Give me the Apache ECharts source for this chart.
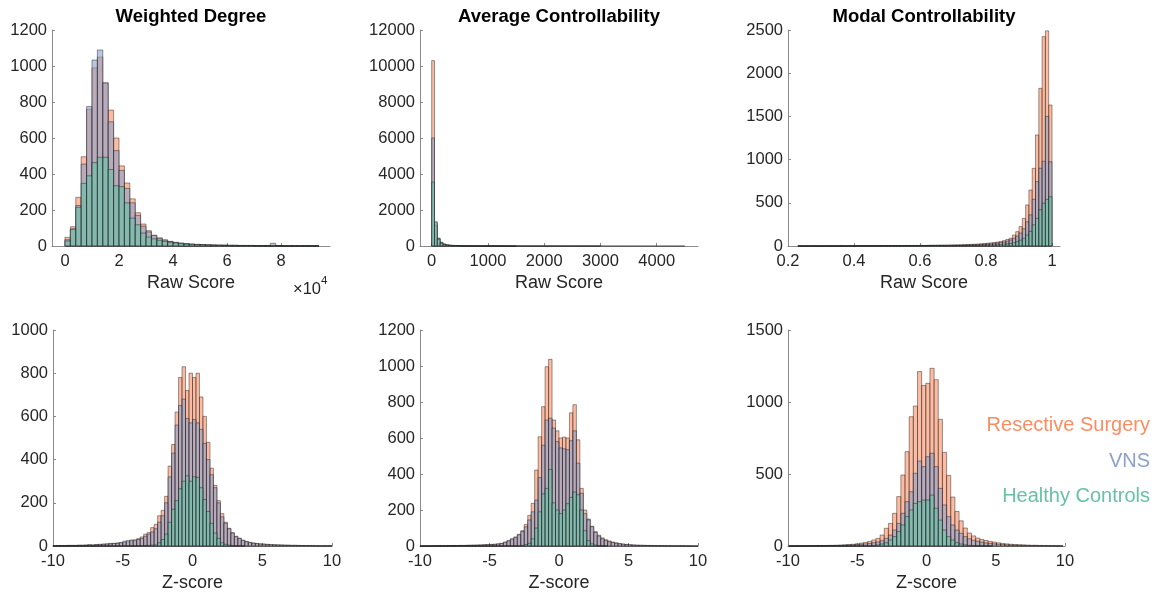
<!DOCTYPE html>
<html>
<head>
<meta charset="utf-8">
<script src="https://cdn.jsdelivr.net/npm/echarts@6/dist/echarts.min.js"></script>
<style>
  html, body { margin: 0; padding: 0; background: #fff; }
  #chart { width: 1157px; height: 599px; }
</style>
</head>
<body>
<div id="chart"></div>
<script>
// groups, drawn in this order (last one on top)
const groupNames = ['Resective Surgery', 'VNS', 'Healthy Controls'];
const groupColors = ['#fc8d62', '#8da0cb', '#66c2a5'];

// ---- Weighted Degree, raw score (x in units of 10^4), bins of 0.2
const wdRawStart = 0, wdRawStep = 0.2;
const wdRawRS = [48, 107, 270, 496, 760, 990, 1050, 905, 755, 600, 445, 350, 262, 185, 122, 85, 60, 45, 34, 26, 20, 16, 13, 11, 9, 8, 7, 6, 5, 5, 4, 4, 3, 3, 3, 2, 2, 2, 2, 2, 1, 1, 1, 1, 1, 1, 1];
const wdRawVNS = [35, 95, 225, 455, 775, 1033, 1089, 907, 690, 530, 420, 320, 240, 170, 110, 78, 58, 43, 33, 25, 20, 16, 13, 11, 9, 8, 7, 6, 5, 5, 4, 4, 3, 3, 3, 2, 2, 2, 15, 2, 1, 1, 1, 1, 1, 1, 1];
const wdRawHC = [28, 93, 215, 348, 390, 463, 493, 493, 425, 335, 330, 240, 155, 118, 72, 50, 40, 32, 25, 20, 16, 13, 10, 8, 7, 6, 5, 4, 4, 3, 3, 2, 2, 2, 2, 1, 1, 1, 1, 1, 1, 1, 1, 1, 1, 1, 1];

// ---- Average Controllability, raw score, bins of 50
const acRawStart = 0, acRawStep = 50;
const acRawRS = [10300, 1300, 440, 210, 115, 72, 50, 36, 27, 20, 15, 12, 10, 8, 7, 6, 5, 4, 4, 3, 3, 3, 2, 2, 2, 2, 2, 1, 1, 1, 1, 1, 1, 1, 1, 1, 0, 1, 0, 1, 0, 0, 1, 0, 0, 1, 0, 0, 0, 1, 0, 0, 0, 0, 1, 0, 0, 0, 0, 0, 1, 0, 0, 0, 0, 0, 0, 1, 0, 0, 0, 0, 0, 0, 0, 0, 0, 1, 0, 0, 0, 0, 0, 0, 0, 0, 0, 0, 0, 1];
const acRawVNS = [6000, 1150, 400, 190, 105, 65, 45, 33, 25, 18, 14, 11, 9, 7, 6, 5, 4, 4, 3, 3, 2, 2, 2, 2, 1, 1, 1, 1, 1, 1, 0, 1, 0, 0, 1, 0, 0, 0, 1, 0, 0, 0, 0, 1, 0, 0, 0, 0, 0, 1, 0, 0, 0, 0, 0, 0, 1, 0, 0, 0];
const acRawHC = [3550, 1350, 380, 150, 80, 45, 30, 20, 14, 10, 8, 6, 5, 4, 3, 3, 2, 2, 1, 1, 1, 1, 1, 0, 1, 0, 0, 1, 0, 0];

// ---- Modal Controllability, raw score, bins of 0.01
const mcRawStart = 0.23, mcRawStep = 0.01;
const mcRawRS = [2, 1, 1, 1, 2, 1, 1, 1, 1, 2, 1, 1, 2, 2, 1, 2, 2, 2, 3, 2, 3, 3, 3, 2, 3, 4, 3, 4, 4, 5, 4, 5, 5, 6, 5, 6, 6, 7, 6, 7, 8, 8, 9, 9, 10, 10, 11, 12, 13, 14, 15,
  17, 19, 21, 23, 26, 29, 32, 36, 40, 46, 53, 62, 75, 90, 127, 166, 224, 320, 475, 648, 899, 1285, 1825, 2423, 2490, 1632];
const mcRawVNS = [1, 0, 1, 0, 1, 1, 0, 1, 1, 1, 1, 1, 1, 2, 1, 1, 2, 2, 2, 2, 2, 3, 2, 3, 3, 3, 3, 4, 3, 4, 4, 4, 5, 5, 5, 5, 6, 6, 6, 7, 7, 7, 8, 8, 8, 9, 9, 10, 10, 11, 12,
  13, 14, 15, 16, 18, 20, 22, 26, 30, 34, 40, 47, 56, 70, 90, 115, 150, 200, 280, 360, 540, 745, 900, 980, 1500, 975];
const mcRawHC = [0, 0, 1, 0, 0, 1, 0, 0, 1, 0, 1, 0, 1, 1, 0, 1, 1, 1, 1, 1, 1, 1, 1, 2, 1, 2, 2, 2, 2, 2, 2, 3, 2, 3, 3, 3, 3, 3, 3, 4, 4, 4, 4, 4, 4, 5, 5, 5, 5, 5, 5,
  6, 7, 7, 8, 9, 10, 11, 12, 13, 15, 18, 21, 25, 30, 38, 50, 68, 90, 127, 170, 245, 320, 420, 495, 540, 570];

// ---- Weighted Degree, z-score, bins of 0.25
const wdZStart = -10, wdZStep = 0.25;
const wdZRS = [1, 2, 1, 2, 3, 2, 3, 4, 3, 5, 6, 5, 7, 8, 9, 10, 12, 12, 14, 16,
  18, 20, 24, 28, 34, 42, 55, 62, 85, 100, 140, 165, 230, 370, 470, 620, 780, 830, 720, 800,
  780, 800, 690, 600, 480, 360, 280, 210, 150, 110, 82, 62, 45, 36, 27, 21, 17, 14, 12, 10,
  9, 8, 7, 6, 5, 5, 4, 4, 3, 3, 3, 2, 2, 2, 2, 1, 1, 1, 1, 1];
const wdZVNS = [1, 1, 2, 1, 2, 3, 2, 3, 4, 3, 5, 4, 6, 6, 8, 9, 10, 12, 13, 15,
  22, 25, 28, 27, 30, 35, 45, 55, 65, 80, 110, 140, 200, 320, 430, 560, 650, 680, 590, 570,
  585, 570, 540, 475, 400, 330, 270, 200, 135, 105, 80, 60, 43, 35, 26, 20, 16, 13, 11, 9,
  8, 7, 6, 5, 5, 4, 4, 3, 3, 3, 2, 2, 2, 2, 1, 1, 1, 1, 1, 1];
const wdZHC = [0, 0, 0, 0, 0, 0, 0, 0, 0, 0, 0, 0, 0, 0, 0, 0, 0, 0, 0, 0, 1, 0, 1, 1, 1, 2, 2, 3, 4,
  5, 15, 30, 55, 110, 170, 210, 265, 300, 325, 300, 320, 318, 270, 215, 160, 105, 60, 35, 15, 8, 4, 2, 1, 1, 1];

// ---- Average Controllability, z-score, bins of 0.25
const acZStart = -10, acZStep = 0.25;
const acZRS = [0, 1, 0, 1, 1, 2, 1, 2, 2, 3, 2, 3, 3, 4, 4, 5, 5, 6, 7, 8,
  9, 10, 12, 15, 22, 30, 40, 50, 65, 85, 120, 170, 237, 422, 607, 774, 996, 1037, 700, 640,
  600, 605, 600, 740, 785, 590, 320, 200, 150, 110, 80, 60, 45, 35, 28, 22, 18, 14, 11, 9,
  7, 6, 5, 4, 4, 3, 3, 2, 2, 2, 2, 1, 1, 1, 1, 1, 1, 1, 0, 0];
const acZVNS = [0, 0, 1, 0, 1, 1, 1, 1, 2, 2, 2, 3, 3, 3, 4, 4, 5, 5, 6, 7,
  8, 9, 11, 14, 20, 28, 38, 48, 62, 80, 107, 145, 190, 255, 380, 560, 700, 710, 655, 580,
  545, 540, 535, 585, 640, 460, 293, 180, 145, 107, 75, 55, 40, 30, 24, 19, 15, 12, 10, 8,
  6, 5, 4, 4, 3, 3, 2, 2, 2, 1, 1, 1, 1, 1, 1, 1, 0, 0, 0, 0];
const acZHC = [0, 0, 0, 0, 0, 0, 0, 0, 0, 0, 0, 0, 0, 0, 0, 0, 0, 0, 0, 0, 0, 0, 0, 0, 0, 1, 0, 1, 1,
  3, 8, 15, 40, 100, 190, 290, 320, 425, 240, 200, 180, 200, 235, 270, 300, 285, 200, 85, 30, 12, 5, 2, 1, 1];

// ---- Modal Controllability, z-score, bins of 0.3
const mcZStart = -9.95, mcZStep = 0.3;
const mcZRS = [1, 1, 2, 1, 2, 2, 3, 2, 3, 4, 4, 5, 6, 8, 10, 12, 15, 20, 25, 32,
  42, 53, 76, 123, 157, 227, 343, 493, 655, 898, 972, 1211, 1115, 1130, 1234, 1155, 880, 650, 490, 340,
  240, 175, 125, 90, 70, 55, 45, 38, 32, 27, 22, 18, 15, 12, 10, 9, 8, 6, 5, 5,
  4, 3, 3, 2, 2, 1];
const mcZVNS = [0, 1, 1, 1, 1, 2, 2, 2, 3, 3, 4, 4, 5, 6, 7, 8, 10, 12, 15, 18,
  23, 28, 37, 53, 76, 111, 157, 227, 308, 377, 505, 590, 551, 620, 644, 551, 400, 285, 204, 146,
  111, 88, 65, 50, 40, 33, 27, 22, 18, 15, 12, 10, 8, 7, 6, 5, 4, 4, 3, 3,
  2, 2, 1, 1, 1, 1];
const mcZHC = [0, 0, 0, 0, 0, 0, 0, 0, 0, 0, 0, 0, 0, 0, 0, 0, 0, 1, 1, 2,
  3, 7, 14, 23, 42, 65, 100, 146, 204, 250, 296, 308, 319, 320, 354, 262, 180, 111, 65, 42,
  23, 14, 8, 5, 3, 2, 1, 1, 1];

// tick labels
const wdRawTicks = [0, 2, 4, 6, 8];
const acRawTicks = [0, 1000, 2000, 3000, 4000];
const mcRawTicks = [0.2, 0.4, 0.6, 0.8, 1];
const zTicks = [-10, -5, 0, 5, 10];

const FONT = '"Liberation Sans", Arial, Helvetica, sans-serif';
const TXT = '#262626';
const AXIS = '#8a8a8a';

// panels: layout + which data
const panels = [
  { title: 'Weighted Degree', xName: 'Raw Score', left: 52, top: 30, width: 278, xMin: -0.48, xMax: 9.81, xTicks: wdRawTicks, yMax: 1200, yStep: 200,
    start: wdRawStart, step: wdRawStep, counts: [wdRawRS, wdRawVNS, wdRawHC] },
  { title: 'Average Controllability', xName: 'Raw Score', left: 420, top: 30, width: 278, xMin: -208, xMax: 4734, xTicks: acRawTicks, yMax: 12000, yStep: 2000,
    start: acRawStart, step: acRawStep, counts: [acRawRS, acRawVNS, acRawHC] },
  { title: 'Modal Controllability', xName: 'Raw Score', left: 788, top: 30, width: 272, xMin: 0.2, xMax: 1.0242, xTicks: mcRawTicks, yMax: 2500, yStep: 500,
    start: mcRawStart, step: mcRawStep, counts: [mcRawRS, mcRawVNS, mcRawHC] },
  { title: null, xName: 'Z-score', left: 53, top: 330, width: 279, xMin: -10, xMax: 10, xTicks: zTicks, yMax: 1000, yStep: 200,
    start: wdZStart, step: wdZStep, counts: [wdZRS, wdZVNS, wdZHC] },
  { title: null, xName: 'Z-score', left: 420, top: 330, width: 278, xMin: -10, xMax: 10, xTicks: zTicks, yMax: 1200, yStep: 200,
    start: acZStart, step: acZStep, counts: [acZRS, acZVNS, acZHC] },
  { title: null, xName: 'Z-score', left: 788, top: 330, width: 277, xMin: -10, xMax: 10, xTicks: zTicks, yMax: 1500, yStep: 500,
    start: mcZStart, step: mcZStep, counts: [mcZRS, mcZVNS, mcZHC] }
];
const gridH = 216;

function hexA(hex, a) {
  const n = parseInt(hex.slice(1), 16);
  return 'rgba(' + (n >> 16) + ',' + ((n >> 8) & 255) + ',' + (n & 255) + ',' + a + ')';
}

// one histogram bar: [binLeft, binRight, count]
function histBar(fill) {
  return function (params, api) {
    const a = api.coord([api.value(0), api.value(2)]);
    const b = api.coord([api.value(1), 0]);
    return {
      type: 'rect',
      shape: { x: a[0], y: a[1], width: b[0] - a[0], height: b[1] - a[1] },
      style: { fill: fill, stroke: 'rgba(20,20,20,0.62)', lineWidth: 0.7 }
    };
  };
}

function txt(x, y, text, size, color, align, weight) {
  return {
    type: 'text', x: x, y: y, silent: true,
    style: {
      text: text, fill: color, fontSize: size, fontFamily: FONT, fontWeight: weight || 'normal',
      align: align, verticalAlign: 'middle', textAlign: align, textVerticalAlign: 'middle'
    }
  };
}

const grid = [], xAxis = [], yAxis = [], series = [], graphic = [];
panels.forEach((p, i) => {
  grid.push({ left: p.left, top: p.top, width: p.width, height: gridH });
  xAxis.push({
    type: 'value', gridIndex: i, min: p.xMin, max: p.xMax,
    axisLine: { onZero: false, lineStyle: { color: AXIS, width: 1 } },
    axisTick: { inside: true, length: 3, customValues: p.xTicks, lineStyle: { color: AXIS } },
    axisLabel: { customValues: p.xTicks, formatter: v => String(v), color: TXT, fontSize: 16.5, fontFamily: FONT, margin: 7 },
    splitLine: { show: false }
  });
  yAxis.push({
    type: 'value', gridIndex: i, min: 0, max: p.yMax, interval: p.yStep,
    axisLine: { show: true, onZero: false, lineStyle: { color: AXIS, width: 1 } },
    axisTick: { show: true, inside: true, length: 3, lineStyle: { color: AXIS } },
    axisLabel: { formatter: v => String(v), color: TXT, fontSize: 16.5, fontFamily: FONT, margin: 5 },
    splitLine: { show: false }
  });
  p.counts.forEach((arr, g) => {
    series.push({
      type: 'custom', name: groupNames[g], xAxisIndex: i, yAxisIndex: i,
      renderItem: histBar(hexA(groupColors[g], 0.6)),
      encode: { x: [0, 1], y: 2 },
      data: arr.map((c, k) => [p.start + k * p.step, p.start + (k + 1) * p.step, c])
    });
  });
  const cx = p.left + p.width / 2;
  if (p.title) graphic.push(txt(cx, 17, p.title, 18.5, '#000', 'center', 'bold'));
  graphic.push(txt(cx, p.top + gridH + 37, p.xName, 18, TXT, 'center'));
});

// exponent for the weighted degree raw axis
graphic.push(txt(293, 289, '\u00d710', 16.5, TXT, 'left'));
graphic.push(txt(321, 281, '4', 11.5, TXT, 'left'));

// group labels
graphic.push(txt(1150, 425, groupNames[0], 20, groupColors[0], 'right'));
graphic.push(txt(1150, 461, groupNames[1], 20, groupColors[1], 'right'));
graphic.push(txt(1150, 496, groupNames[2], 20, groupColors[2], 'right'));

const chart = echarts.init(document.getElementById('chart'), null, { renderer: 'canvas' });
chart.setOption({
  animation: false,
  backgroundColor: '#fff',
  grid: grid,
  xAxis: xAxis,
  yAxis: yAxis,
  series: series,
  graphic: graphic
});
</script>
</body>
</html>
